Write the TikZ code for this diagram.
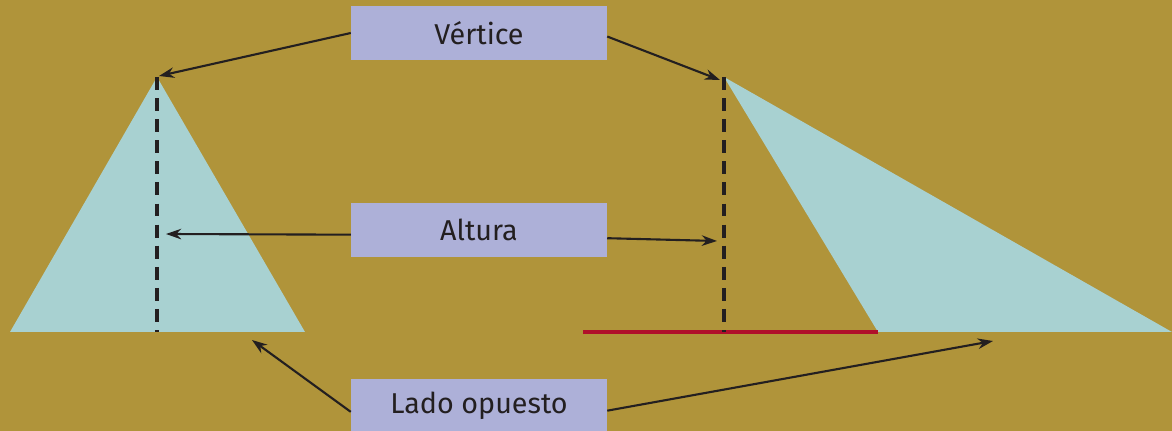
\documentclass[tikz,border=0pt]{standalone}
\usepackage{fontspec}
\setmainfont{Fira Sans}
\usetikzlibrary{arrows.meta, positioning}
\definecolor{mGold}{HTML}{B0943A}
\definecolor{mAqua}{HTML}{A8D1D1}
\definecolor{mLilac}{HTML}{ADB0D8}
\definecolor{mRed}{HTML}{B0102A}
\definecolor{mInk}{HTML}{231F20}

\begin{document}
\begin{tikzpicture}[x=0.03cm, y=-0.03cm,
    label box/.style={fill=mLilac, minimum width=7.68cm, minimum height=1.62cm,
      inner sep=0pt, font=\fontsize{24.5}{29}\selectfont, text=mInk},
    pointer/.style={draw=mInk, line width=1.8pt, -{Stealth[length=13pt, width=9pt]}},
    height line/.style={draw=mInk, line width=3pt, dash pattern=on 11pt off 7pt}]
    \fill[mGold] (0,0) rectangle (1172,431);
    \useasboundingbox (0,0) rectangle (1172,431);
    % triangles
    \fill[mAqua] (157,77) -- (305,332) -- (10,332) -- cycle;
    \fill[mAqua] (724,77) -- (1172,332) -- (878,332) -- cycle;
    \draw[mRed, line width=2.6pt] (583,332) -- (878,332);
    \draw[height line] (157,77) -- (157,332);
    \draw[height line] (724,77) -- (724,332);
    % labels
    \node[label box] (vertice) at (479,33) {Vértice};
    \node[label box] (altura) at (479,230) {Altura};
    \node[label box] (lado) at (479,406) {Lado opuesto};
    \coordinate (apexL) at (159,76);
    \coordinate (apexR) at (720,80);
    \coordinate (altL) at (166,234);
    \coordinate (altR) at (717,241);
    \coordinate (sideL) at (252,340);
    \coordinate (sideR) at (993,341);
    \draw[pointer] (vertice.west) -- (apexL);
    \draw[pointer] ([yshift=-3pt]vertice.east) -- (apexR);
    \draw[pointer] ([yshift=-4pt]altura.west) -- (altL);
    \draw[pointer] ([yshift=-7pt]altura.east) -- (altR);
    \draw[pointer] ([yshift=-5pt]lado.west) -- (sideL);
    \draw[pointer] ([yshift=-4pt]lado.east) -- (sideR);
\end{tikzpicture}
\end{document}
